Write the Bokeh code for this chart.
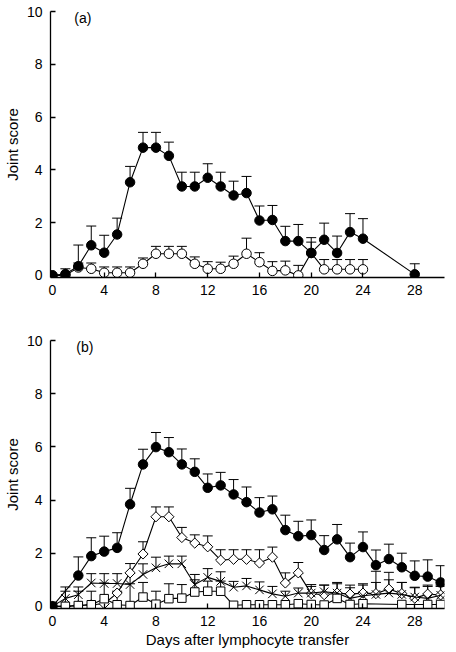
import numpy as np
from bokeh.plotting import figure
from bokeh.models import Range1d, Whisker, ColumnDataSource, TeeHead, Label, FixedTicker
from bokeh.layouts import column
from bokeh.embed import file_html
from bokeh.resources import INLINE

nan = float("nan")

# ---------------- Panel (a) ----------------
days_a_filled = [0, 1, 2, 3, 4, 5, 6, 7, 8, 9, 10, 11, 12, 13, 14, 15, 16, 17, 18, 19, 20, 21, 22, 23, 24, 28]
filled_a = [0, 0.05, 0.35, 1.14, 0.86, 1.55, 3.53, 4.84, 4.84, 4.53, 3.37, 3.37, 3.70, 3.37, 3.03, 3.12,
            2.08, 2.10, 1.30, 1.30, 0.85, 1.35, 0.85, 1.64, 1.39, 0.04]
filled_a_err = [nan, 0.25, 1.15, 1.87, 1.52, 2.17, 4.13, 5.42, 5.42, 5.05, 3.91, 3.91, 4.23, 3.91, 3.57, 3.75,
                2.63, 2.65, 1.86, 1.93, 1.43, 1.98, 1.49, 2.34, 2.15, 0.44]

days_a_open = list(range(0, 25))
open_a = [0, 0, 0.3, 0.25, 0.1, 0.1, 0.1, 0.44, 0.82, 0.82, 0.82, 0.44, 0.25, 0.25, 0.44, 0.82,
          0.5, 0.17, 0.19, 0.0, 0.85, 0.23, 0.23, 0.23, 0.23]
open_a_err = [nan, nan, 0.47, 0.47, 0.32, 0.32, 0.32, 0.66, 1.1, 1.1, 1.1, 0.7, 0.52, 0.5, 0.73, 1.41,
              0.86, 0.52, 0.54, 0.38, 1.26, 0.6, 0.6, 0.6, 0.6]

# ---------------- Panel (b) ----------------
days_b_filled = [0] + list(range(2, 31))
filled_b = [0, 1.16, 1.89, 2.06, 2.2, 3.84, 5.34, 5.99, 5.8, 5.34, 5.06, 4.46, 4.55, 4.21, 3.92,
            3.53, 3.65, 2.87, 2.64, 2.68, 2.12, 2.52, 1.85, 2.23, 1.55, 1.78, 1.47, 1.15, 1.12, 0.9]
filled_b_err = [nan, 1.86, 2.58, 2.64, 2.77, 4.44, 5.91, 6.54, 6.35, 5.92, 5.55, 4.98, 5.04, 4.77, 4.49,
                4.09, 4.15, 3.43, 3.2, 3.25, 2.66, 3.08, 2.38, 2.8, 2.12, 2.34, 2.0, 1.71, 1.75, 1.53]

days_b_diamond = list(range(0, 31))
diamond_b = [0, 0, 0.03, 0.06, 0.1, 0.5, 1.26, 1.97, 3.37, 3.37, 2.59, 2.38, 2.24, 1.74, 1.77, 1.77,
             1.63, 1.85, 0.88, 1.26, 0.48, 0.44, 0.5, 0.46, 0.5, 0.48, 0.65, 0.48, 0.31, 0.46, 0.43]
diamond_b_err = [nan, nan, nan, nan, nan, nan, 1.61, 2.43, 3.74, 3.74, 2.97, 2.69, 2.65, 2.13, 2.13, 2.13,
                 2.13, 2.23, 1.26, 1.65, 0.82, 0.8, 0.9, 0.8, 0.85, 0.9, 1.0, 0.9, 0.72, 0.8, 0.8]

days_b_star = list(range(0, 31))
star_b = [0, 0.3, 0.44, 0.88, 0.86, 0.86, 0.82, 1.2, 1.45, 1.6, 1.6, 0.82, 1.09, 0.94, 0.72, 0.77,
          0.62, 0.47, 0.38, 0.5, 0.5, 0.55, 0.5, 0.3, 0.4, 0.45, 0.5, 0.45, 0.35, 0.3, 0.42]
star_b_err = [nan, 0.73, 0.73, 1.23, 1.23, 1.23, 1.25, 1.6, 1.85, 1.89, 1.89, 1.2, 1.42, 1.3, 0.94, 1.05,
              0.92, 0.75, 0.57, 0.69, 0.75, 0.8, 0.85, 0.7, 0.8, 1.32, 1.28, 0.9, 0.7, 0.75, 0.75]

days_b_square = list(range(0, 25)) + [27, 29, 30]
square_b = [0, 0, 0.03, 0.06, 0.29, 0.06, 0.03, 0.35, 0.08, 0.29, 0.31, 0.54, 0.57, 0.57, 0.04, 0.06,
            0.06, 0.06, 0.06, 0.1, 0.07, 0.05, 0.3, 0.07, 0.1, 0.07, 0.07, 0.07]
square_b_err = [nan, 0.57, 0.57, 0.57, 0.88, 0.57, 0.85, 0.9, 0.57, 0.85, 0.82, 1.0, 0.95, 0.95, nan, nan,
                nan, nan, nan, nan, nan, nan, nan, nan, nan, nan, nan, nan]

x_ticks = [0, 4, 8, 12, 16, 20, 24, 28]
y_ticks = [0, 2, 4, 6, 8, 10]

FONT = "Liberation Sans"


def make_fig(height, top, bottom, xlabel):
    p = figure(width=448, height=height, output_backend="svg", toolbar_location=None,
               x_range=Range1d(-0.15, 30.3), y_range=Range1d(-0.08, 10),
               min_border_left=42, min_border_right=4, min_border_top=top, min_border_bottom=bottom)
    p.outline_line_color = None
    p.grid.visible = False
    p.background_fill_color = "white"
    p.border_fill_color = "white"
    p.xaxis.ticker = FixedTicker(ticks=x_ticks)
    p.yaxis.ticker = FixedTicker(ticks=y_ticks)
    for ax in (p.xaxis, p.yaxis):
        ax.minor_tick_line_color = None
        ax.major_tick_in = 5
        ax.major_tick_out = 0
        ax.axis_line_color = "black"
        ax.axis_line_width = 1.3
        ax.major_tick_line_width = 1.3
        ax.major_label_text_font = FONT
        ax.major_label_text_font_size = "14px"
        ax.major_label_text_color = "black"
        ax.axis_label_text_font = FONT
        ax.axis_label_text_font_size = "15px"
        ax.axis_label_text_font_style = "normal"
        ax.axis_label_text_color = "black"
    p.yaxis.major_label_standoff = 8
    p.xaxis.major_label_standoff = 7
    p.yaxis.axis_label = "Joint score"
    p.yaxis.axis_label_standoff = 3
    if xlabel:
        p.xaxis.axis_label = xlabel
        p.xaxis.axis_label_standoff = 2
    return p


def add_series(p, xs, ys, errs, marker, size, fill, angle=0.0):
    xs = np.array(xs, dtype=float)
    ys = np.array(ys, dtype=float)
    errs = np.array(errs, dtype=float)
    ok = ~np.isnan(errs)
    wsrc = ColumnDataSource(dict(x=xs[ok], lower=ys[ok], upper=errs[ok]))
    p.add_layout(Whisker(source=wsrc, base="x", lower="lower", upper="upper",
                         line_color="black", line_width=1,
                         upper_head=TeeHead(size=10, line_color="black", line_width=1),
                         lower_head=None))
    src = ColumnDataSource(dict(x=xs, y=ys))
    p.line("x", "y", source=src, line_color="black", line_width=1.1)
    p.scatter("x", "y", source=src, marker=marker, size=size, fill_color=fill,
              line_color="black", line_width=1, angle=angle)


# Panel (a)
pa = make_fig(328, 11, 51, None)
add_series(pa, days_a_open, open_a, open_a_err, "circle", 9.5, "white")
add_series(pa, days_a_filled, filled_a, filled_a_err, "circle", 9.5, "black")
pa.add_layout(Label(x=2.35, y=9.75, text="(a)", text_align="center", text_baseline="middle",
                    text_font=FONT, text_font_size="14px", text_color="black"))

# Panel (b)
pb = make_fig(322, 12, 42, "Days after lymphocyte transfer")
add_series(pb, days_b_diamond, diamond_b, diamond_b_err, "square", 7.2, "white", angle=np.pi / 4)
add_series(pb, days_b_star, star_b, star_b_err, "x", 12, "white")
add_series(pb, days_b_square, square_b, square_b_err, "square", 8.5, "white")
add_series(pb, days_b_filled, filled_b, filled_b_err, "circle", 9.5, "black")
pb.add_layout(Label(x=2.5, y=9.74, text="(b)", text_align="center", text_baseline="middle",
                    text_font=FONT, text_font_size="14px", text_color="black"))

layout = column(pa, pb, spacing=0)
open("out.html", "w").write(file_html(layout, INLINE))
